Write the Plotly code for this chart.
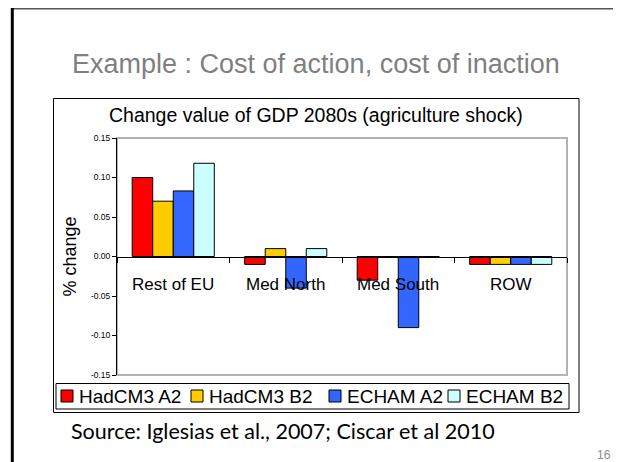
import plotly.graph_objects as go

regions = ["Rest of EU", "Med North", "Med South", "ROW"]
series = ["HadCM3 A2", "HadCM3 B2", "ECHAM A2", "ECHAM B2"]
had_a2 = [0.100, -0.010, -0.030, -0.010]
had_b2 = [0.070, 0.010, 0.000, -0.010]
echam_a2 = [0.083, -0.040, -0.090, -0.010]
echam_b2 = [0.118, 0.010, 0.000, -0.010]
values = [had_a2, had_b2, echam_a2, echam_b2]
colors = ["#FF0000", "#FFCC00", "#3366FF", "#CCFFFF"]

y_ticks = [-0.15, -0.10, -0.05, 0.00, 0.05, 0.10, 0.15]
y_tick_labels = ["-0.15", "-0.10", "-0.05", "0.00", "0.05", "0.10", "0.15"]

# the page body adds an 8px margin, so the figure is 8px smaller than the window
OFF = 8
W, H = 621 - OFF, 462 - OFF
ML, MR, MT, MB = 117 - OFF, 54, 138 - OFF, 87
PW, PH = W - ML - MR, H - MT - MB


# screenshot pixel -> paper coordinates
def px(x):
    return (x - OFF - ML) / PW


def py(y):
    return (H - MB - (y - OFF)) / PH


fig = go.Figure()
for name, vals, col in zip(series, values, colors):
    fig.add_trace(go.Bar(x=regions, y=vals, name=name,
                         marker=dict(color=col, line=dict(color="black", width=1))))

font = "Liberation Sans, Arial, sans-serif"
ann = []
ann.append(dict(text="Example : Cost of action, cost of inaction", x=px(316), y=py(64),
                font=dict(size=27, color="#7f7f7f", family=font)))
ann.append(dict(text="Change value of GDP 2080s (agriculture shock)", x=px(316), y=py(115),
                font=dict(size=19.5, color="black", family=font)))
ann.append(dict(text="% change", x=px(69), y=0.5, textangle=-90,
                font=dict(size=18, color="black", family=font)))
for r in regions:
    ann.append(dict(text=r, x=r, y=0, xref="x", yref="y", yshift=-28,
                    font=dict(size=17, color="black", family=font)))
ann.append(dict(text="Source: Iglesias et al., 2007; Ciscar et al 2010", x=px(69), y=py(431),
                xanchor="left", font=dict(size=21.5, color="black", family="Lato, sans-serif")))
ann.append(dict(text="16", x=px(613), y=py(455), xanchor="right",
                font=dict(size=12, color="#8c8c8c", family=font)))

shapes = []
# slide frame
shapes.append(dict(type="line", x0=px(11), x1=px(620), y0=py(8.5), y1=py(8.5),
                   line=dict(color="#555555", width=2)))
shapes.append(dict(type="line", x0=px(12.3), x1=px(12.3), y0=py(8), y1=py(470),
                   line=dict(color="black", width=3)))
shapes.append(dict(type="line", x0=px(619), x1=px(619), y0=py(8), y1=py(470),
                   line=dict(color="black", width=3)))
# chart box and legend box
shapes.append(dict(type="rect", x0=px(53.5), x1=px(579), y0=py(98.5), y1=py(412.5),
                   line=dict(color="black", width=1)))
shapes.append(dict(type="rect", x0=px(56), x1=px(569), y0=py(383.5), y1=py(409),
                   line=dict(color="black", width=1)))
# plot area border
shapes.append(dict(type="rect", x0=0, x1=1, y0=0, y1=1, layer="below",
                   line=dict(color="#b3b3b3", width=2)))

# legend
sq_left = [61, 191, 329, 448]
for name, col, x0 in zip(series, colors, sq_left):
    shapes.append(dict(type="rect", x0=px(x0), x1=px(x0 + 12), y0=py(390), y1=py(402),
                       fillcolor=col, line=dict(color="black", width=1)))
    ann.append(dict(text=name, x=px(x0 + 16), y=py(396), xanchor="left",
                    font=dict(size=19, color="black", family=font)))

for a in ann:
    a.setdefault("xref", "paper")
    a.setdefault("yref", "paper")
    a.setdefault("xanchor", "center")
    a.setdefault("yanchor", "middle")
    a["showarrow"] = False
for s in shapes:
    s.setdefault("xref", "paper")
    s.setdefault("yref", "paper")

fig.update_layout(
    width=W, height=H,
    margin=dict(l=ML, r=MR, t=MT, b=MB),
    paper_bgcolor="white", plot_bgcolor="white",
    barmode="group", bargap=0.27, bargroupgap=0,
    showlegend=False,
    annotations=ann, shapes=shapes,
    font=dict(family=font, color="black"),
    xaxis=dict(type="category", anchor="free", position=0.5, showline=True,
               linecolor="black", linewidth=1, ticks="outside", tickson="boundaries",
               ticklen=5, tickcolor="black", showticklabels=False, showgrid=False,
               zeroline=False),
    yaxis=dict(range=[-0.15, 0.15], tickvals=y_ticks, ticktext=y_tick_labels,
               showline=True, linecolor="black", linewidth=1, ticks="outside",
               ticklen=4, tickcolor="black", showgrid=False, zeroline=False,
               tickfont=dict(size=8.5, color="black")),
)

fig.write_html("out.html")
